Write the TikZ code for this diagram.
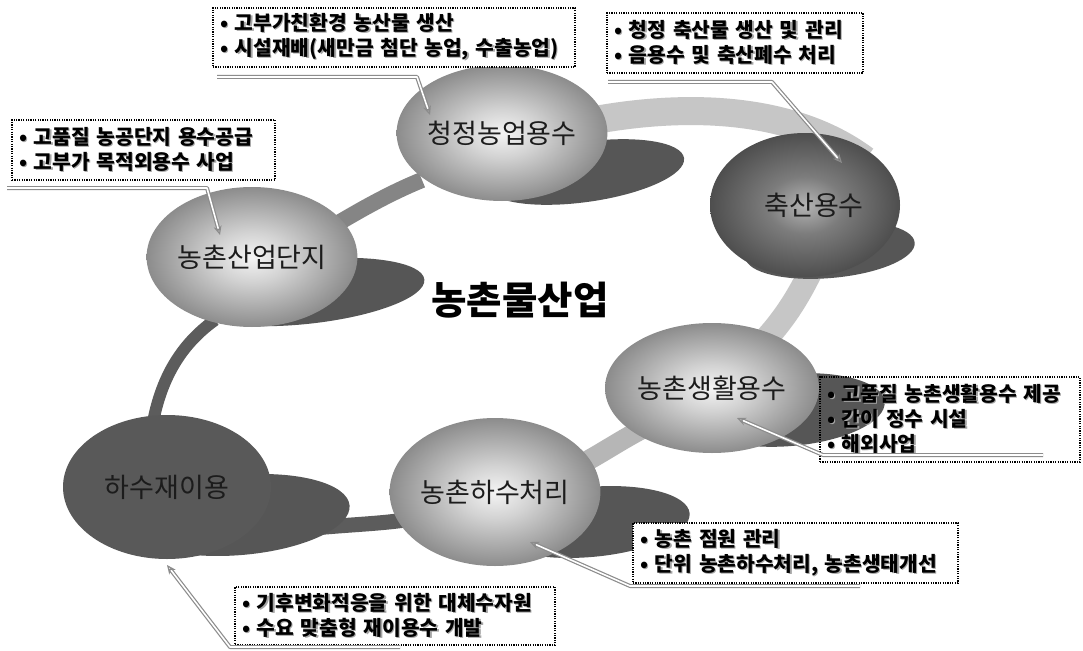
\documentclass[tikz,border=0pt]{standalone}
\usepackage{fontspec}
\setmainfont{Noto Sans CJK KR}
\usetikzlibrary{shapes.geometric,arrows.meta}
\definecolor{lc0}{HTML}{F4F4F4}
\definecolor{lc1}{HTML}{D2D2D2}
\definecolor{lc2}{HTML}{8C8C8C}
\definecolor{dc0}{HTML}{B4B4B4}
\definecolor{dc1}{HTML}{7C7C7C}
\definecolor{dc2}{HTML}{4E4E4E}
\definecolor{shadowc}{HTML}{565656}
\definecolor{darkball}{HTML}{595959}
\definecolor{labelc}{HTML}{1C1C1C}
\definecolor{bandDark}{HTML}{5C5C5C}
\definecolor{bandMid}{HTML}{858585}
\definecolor{bandLight}{HTML}{C6C6C6}
\pgfdeclareradialshading{lightball}{\pgfpointorigin}{color(0bp)=(lc0); color(9bp)=(lc1); color(25bp)=(lc2); color(50bp)=(lc2)}
\pgfdeclareradialshading{darkshade}{\pgfpointorigin}{color(0bp)=(dc0); color(10bp)=(dc1); color(25bp)=(dc2); color(50bp)=(dc2)}
\newcommand\shd[1]{\leavevmode\rlap{\kern1.3pt\raisebox{-1.3pt}{\textcolor{black!35}{#1}}}#1}
\begin{document}
\begin{tikzpicture}[x=1pt,y=-1pt,
  ball/.style={ellipse, draw=none, text=labelc, font=\fontsize{27}{30}\selectfont, inner sep=0pt},
  lightb/.style={ball, shade, shading=lightball},
  darkb/.style={ball, shade, shading=darkshade},
  flatb/.style={ball, fill=darkball},
  shadowb/.style={fill=shadowc},
  band/.style={line cap=butt},
  box/.style={draw=black, line width=1.3pt, dash pattern=on 1.2pt off 1.2pt, fill=white, align=left,
    font=\bfseries\fontsize{20.3}{25}\selectfont, inner xsep=7pt, inner ysep=0pt},
  callout/.style={draw=black!45, line width=1.2pt, double=white, double distance=1.6pt, line join=round,
    -{Stealth[length=9pt,width=8pt,open]}}
]
\fill[white] (0,0) rectangle (1083,650);
\useasboundingbox (0,0) rectangle (1083,650);

% ring bands
\draw[band, bandDark, line width=12pt] (152,428) .. controls (160,380) and (180,345) .. (215,320);
\draw[band, bandMid, line width=16pt] (330,228) .. controls (360,210) and (390,193) .. (422,180);
\draw[band, bandLight, line width=28pt] (590,121) .. controls (680,104) and (790,104) .. (865,160);
\draw[band, bandLight, line width=24pt] (815,262) .. controls (800,295) and (785,318) .. (765,340);
\draw[band, bandLight!92!black, line width=20pt] (650,425) .. controls (620,440) and (600,455) .. (570,470);
\draw[band, bandDark, line width=15pt] (405,520) .. controls (370,525) and (330,525) .. (280,532);

% shadows
\fill[shadowb] (585,172) ellipse [x radius=100, y radius=30, rotate=8];
\fill[shadowb] (305,292) ellipse [x radius=120, y radius=32, rotate=6];
\fill[shadowb] (830,250) ellipse [x radius=85, y radius=28, rotate=5];
\fill[shadowb] (790,410) ellipse [x radius=95, y radius=36, rotate=5];
\fill[shadowb] (590,522) ellipse [x radius=100, y radius=35, rotate=5];
\fill[shadowb] (240,515) ellipse [x radius=110, y radius=40, rotate=5];

% balls
\node[lightb, minimum width=206pt, minimum height=136pt] (agri) at (502,133) {청정농업용수};
\node[darkb, minimum width=190pt, minimum height=144pt] (live) at (805,205) {\hspace{18pt}축산용수};
\node[lightb, minimum width=208pt, minimum height=140pt] (ind) at (252,257) {농촌산업단지};
\node[lightb, minimum width=214pt, minimum height=130pt] (life) at (712,388) {농촌생활용수};
\node[lightb, minimum width=206pt, minimum height=148pt] (sew) at (495,492) {농촌하수처리};
\node[flatb, minimum width=208pt, minimum height=144pt] (reuse) at (167,487) {하수재이용};

% title
\node[font=\bfseries\fontsize{38.5}{42}\selectfont] (title) at (520,300) {농촌물산업};

% boxes
\node[box, minimum width=362pt, minimum height=59pt, text width=348pt] (bA) at (394,37.5)
  {\shd{• 고부가친환경 농산물 생산}\\\shd{• 시설재배(새만금 첨단 농업, 수출농업)}};
\node[box, minimum width=256pt, minimum height=60pt, text width=242pt] (bB) at (735,43)
  {\shd{• 청정 축산물 생산 및 관리}\\\shd{• 음용수 및 축산폐수 처리}};
\node[box, minimum width=263pt, minimum height=60pt, text width=249pt] (bC) at (143.5,150)
  {\shd{• 고품질 농공단지 용수공급}\\\shd{• 고부가 목적외용수 사업}};
\node[box, fill=none, minimum width=260pt, minimum height=85pt, text width=246pt] (bD) at (950,419.5)
  {\shd{• 고품질 농촌생활용수 제공}\\\shd{• 간이 정수 시설}\\\shd{• 해외사업}};
\node[box, minimum width=325pt, minimum height=60pt, text width=311pt] (bE) at (795.5,553)
  {\shd{• 농촌 점원 관리}\\\shd{• 단위 농촌하수처리, 농촌생태개선}};
\node[box, minimum width=320pt, minimum height=58pt, text width=306pt] (bF) at (395,616)
  {\shd{• 기후변화적응을 위한 대체수자원}\\\shd{• 수요 맞춤형 재이용수 개발}};

% callout points
\coordinate (a0) at (217,77);  \coordinate (a1) at (417,77);  \coordinate (aT) at (430,115);
\coordinate (b0) at (608,82);  \coordinate (b1) at (772,82);  \coordinate (bT) at (842,163);
\coordinate (c0) at (7,188);   \coordinate (c1) at (207,188); \coordinate (cT) at (220,235);
\coordinate (d0) at (1043,455);\coordinate (d1) at (823,455); \coordinate (dT) at (737,418);
\coordinate (e0) at (860,586); \coordinate (e1) at (630,586); \coordinate (eT) at (530,542);
\coordinate (f0) at (400,647); \coordinate (f1) at (230,647); \coordinate (fT) at (167,565);

\draw[callout] (a0) -- (a1) -- (aT);
\draw[callout] (b0) -- (b1) -- (bT);
\draw[callout] (c0) -- (c1) -- (cT);
\draw[callout] (d0) -- (d1) -- (dT);
\draw[callout] (e0) -- (e1) -- (eT);
\draw[callout] (f0) -- (f1) -- (fT);
\end{tikzpicture}
\end{document}
